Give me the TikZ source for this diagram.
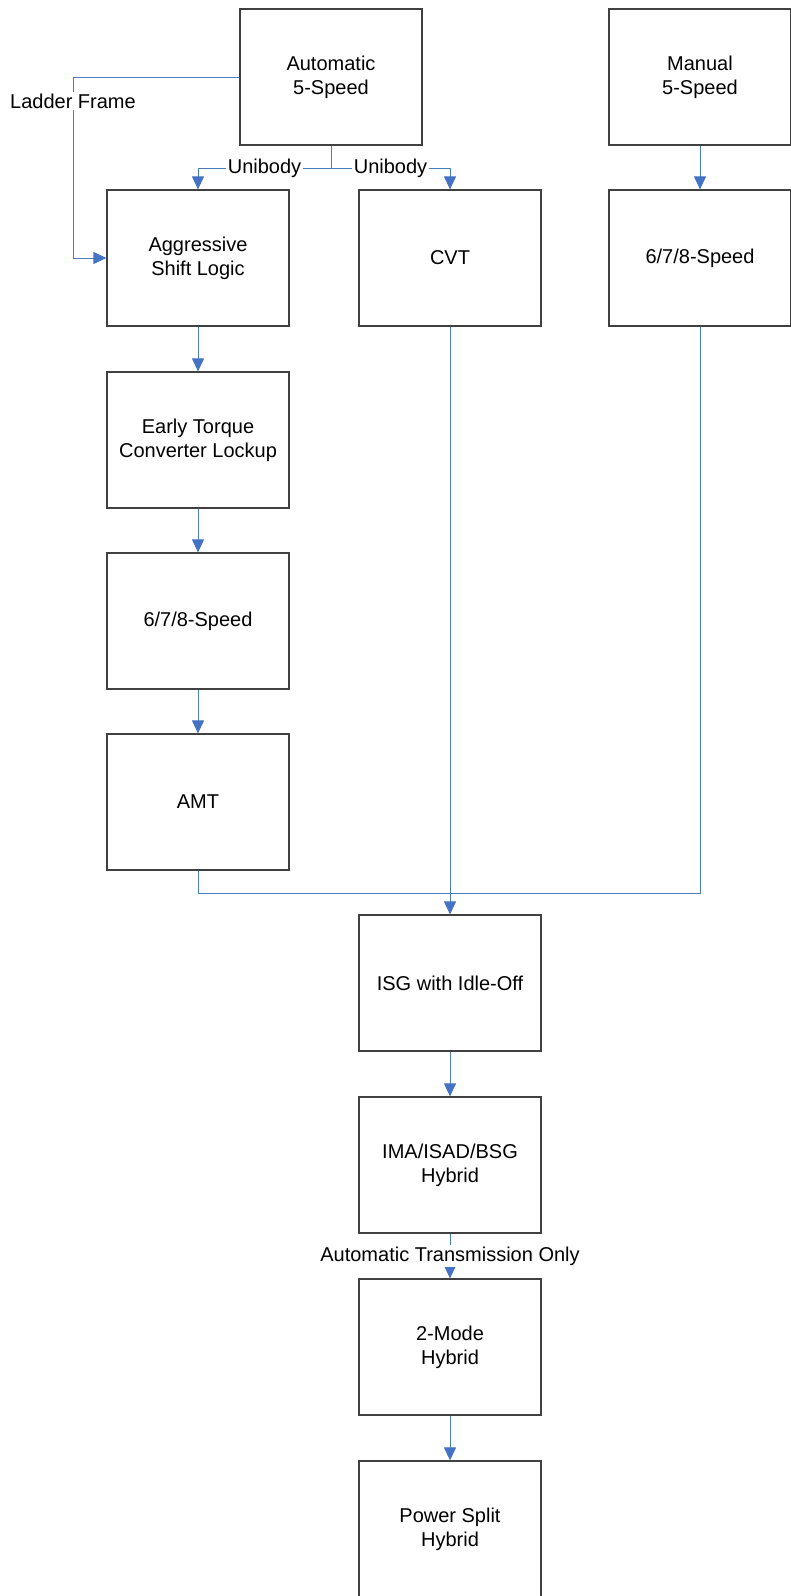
\documentclass[tikz,border=0pt]{standalone}
\usepackage{fontspec}
\setmainfont{Liberation Sans}
\usetikzlibrary{arrows.meta}

\definecolor{linkblue}{RGB}{74,126,187}
\definecolor{tipblue}{RGB}{68,114,196}

\tikzset{
	stage/.style={draw=black!75, line width=0.6pt, minimum width=91pt, minimum height=68pt,
		inner sep=0pt, align=center, font=\fontsize{10}{12}\selectfont},
	link/.style={draw=linkblue, line width=0.5pt},
	flow/.style={link, -{Triangle[length=6.5pt,width=6pt,color=tipblue]}},
	tag/.style={fill=white, inner sep=1pt, font=\fontsize{10}{12}\selectfont}
}

\begin{document}
\begin{tikzpicture}[x=0.5pt,y=-0.5pt]
		\useasboundingbox (0,0) rectangle (791,1596);
		
		\node[stage] (auto) at (331,77) {Automatic\\5-Speed};
		\node[stage] (manual) at (700,77) {Manual\\5-Speed};
		\node[stage] (aggr) at (198,258) {Aggressive\\Shift Logic};
		\node[stage] (cvt) at (450,258) {CVT};
		\node[stage] (m678) at (700,258) {6/7/8-Speed};
		\node[stage] (early) at (198,440) {Early Torque\\Converter Lockup};
		\node[stage] (a678) at (198,621) {6/7/8-Speed};
		\node[stage] (amt) at (198,802) {AMT};
		\node[stage] (isg) at (450,983) {ISG with Idle-Off};
		\node[stage] (ima) at (450,1165) {IMA/ISAD/BSG\\Hybrid};
		\node[stage] (twomode) at (450,1347) {2-Mode\\Hybrid};
		\node[stage] (psplit) at (450,1529) {Power Split\\Hybrid};
		
		\coordinate (ladder) at (73,77);
		\coordinate (split) at (331,168);
		\coordinate (join) at (450,893);
		
		% automatic branches
		\draw[flow] (auto.west) -- (ladder) |- node[tag,pos=0.066] {Ladder Frame} (aggr.west);
		\draw[link] (auto.south) -- (split);
		\draw[flow] (split) -| node[tag,pos=0.25] {Unibody} (aggr.north);
		\draw[flow] (split) -| node[tag,pos=0.25] {Unibody} (cvt.north);
		\draw[flow] (manual) -- (m678);
		
		\draw[flow] (aggr) -- (early);
		\draw[flow] (early) -- (a678);
		\draw[flow] (a678) -- (amt);
		
		% merge into ISG
		\draw[link] (amt.south) |- (join);
		\draw[link] (m678.south) |- (join);
		\draw[flow] (cvt.south) -- (isg.north);
		
		\draw[flow] (isg) -- (ima);
		\draw[flow] (ima) -- node[tag] {Automatic Transmission Only} (twomode);
		\draw[flow] (twomode) -- (psplit);
\end{tikzpicture}
\end{document}
